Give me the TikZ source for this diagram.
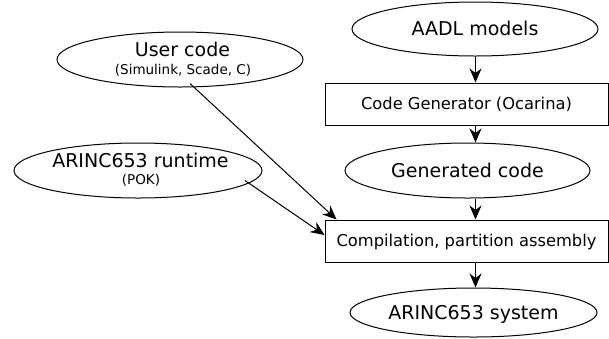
\documentclass[tikz,border=0pt]{standalone}
\usepackage{fontspec}
\setmainfont{DejaVu Sans}
\usetikzlibrary{shapes.geometric,arrows.meta,calc}
\begin{document}
\begin{tikzpicture}[x=1pt,y=-1pt,line width=1pt,
  ell/.style={draw,ellipse,inner sep=0pt,minimum width=246pt,minimum height=54pt,
    font=\fontsize{19}{22}\selectfont,text height=13.9pt,text depth=0pt},
  box/.style={draw,rectangle,inner sep=0pt,minimum width=283pt,minimum height=42pt,
    font=\fontsize{16.3}{19}\selectfont,text height=11.9pt,text depth=0pt},
  big/.style={inner sep=0pt,anchor=base,font=\fontsize{19}{22}\selectfont},
  small/.style={inner sep=0pt,anchor=base,font=\fontsize{13.5}{16}\selectfont},
  arr/.style={-{Stealth[length=14pt,width=12pt,inset=4.5pt]}}]
\useasboundingbox (0,0) rectangle (609,338);
% right column
\node[ell] (aadl) at (475,29) {AADL models};
\node[box] (gen) at (466.5,104) {Code Generator (Ocarina)};
\node[ell,minimum width=245pt,minimum height=55pt] (gc) at (467.5,170.5) {Generated code};
\node[box] (cmp) at (466.5,241) {Compilation, partition assembly};
\node[ell,minimum width=247pt,minimum height=49pt] (sys) at (473.5,312.5) {ARINC653 system};
% left inputs
\node[ell,minimum width=246pt,minimum height=55pt] (uc) at (180,59.5) {};
\node[big] (uct) at (182.5,56) {User code};
\node[small] (ucs) at (183,74) {(Simulink, Scade, C)};
\node[ell,minimum width=248pt,minimum height=55pt] (rt) at (138,170.5) {};
\node[big] (rtt) at (140.5,167) {ARINC653 runtime};
\node[small] (rts) at (141,184) {(POK)};
% connectors
\coordinate (ucs0) at ($(uc.center)+(10,24)$);
\coordinate (uce) at ($(cmp.north west)+(12,0)$);
\coordinate (rts0) at ($(rt.center)+(107,10)$);
\coordinate (rte) at ($(cmp.west)+(0,-6)$);
\draw[arr] (aadl.south -| 475.5,0) -- (475.5,0 |- gen.north);
\draw[arr] (475.5,0 |- gen.south) -- (475.5,0 |- gc.north);
\draw[arr] (475.5,0 |- gc.south) -- (475.5,0 |- cmp.north);
\draw[arr] (475.5,0 |- cmp.south) -- (475.5,0 |- sys.north);
\draw[arr] (ucs0) -- (uce);
\draw[arr] (rts0) -- (rte);
\end{tikzpicture}
\end{document}
